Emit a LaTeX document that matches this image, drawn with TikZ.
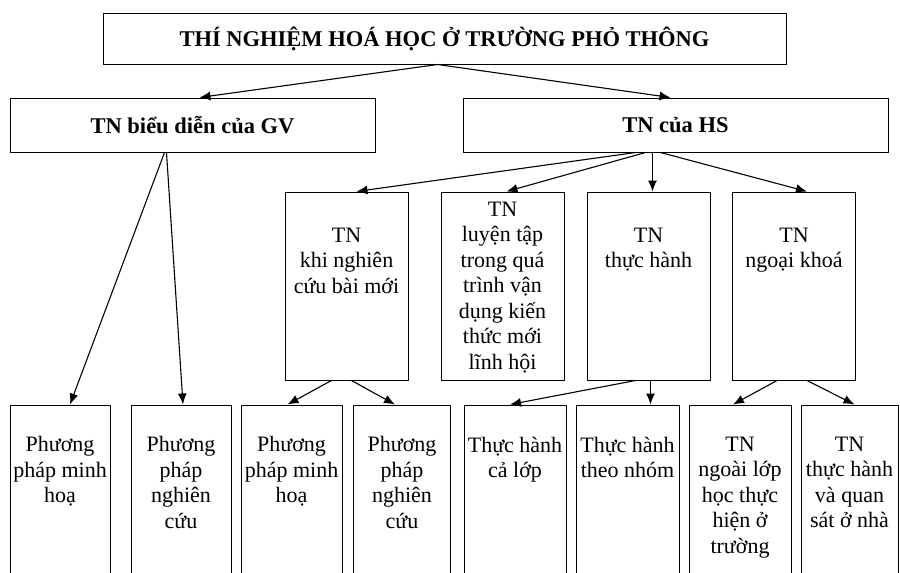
\documentclass[tikz,border=0pt]{standalone}
\usepackage{fontspec}
\setmainfont{Liberation Serif}
\usetikzlibrary{positioning, arrows.meta}

\begin{document}
\begin{tikzpicture}[
  x=1pt, y=-1pt,
  font=\fontsize{22}{25.5}\selectfont,
  box/.style={draw, line width=1pt, inner sep=0pt},
  head/.style={box, font=\fontsize{22.5}{26}\selectfont\bfseries},
  txt/.style={align=center, inner sep=0pt},
  link/.style={draw, line width=1.1pt, -{Latex[length=11pt, width=9pt]}}
]
\useasboundingbox (0,0) rectangle (900,573);

% top
\node[head, minimum width=683pt, minimum height=51pt] (root) at (444.5,38.5) {THÍ NGHIỆM HOÁ HỌC Ở TRƯỜNG PHỎ THÔNG};

% second level
\node[head, minimum width=365pt, minimum height=54pt] (gv) at (192.5,125) {TN biểu diễn của GV};
\node[head, minimum width=425pt, minimum height=54pt] (hs) at (675.5,125) {TN của HS};

% third level (HS)
\foreach \name/\cx in {kn/346.5, lt/502.5, th/648.5, nk/794}
  \node[box, minimum width=123pt, minimum height=188pt] (\name) at (\cx,286) {};
\node[txt, below=10pt of lt.north] (lt-t) {TN\\luyện tập\\trong quá\\trình vận\\dụng kiến\\thức mới\\lĩnh hội};
\node[txt, below=36pt of kn.north] (kn-t) {TN\\khi nghiên\\cứu bài mới};
\node[txt, below=36pt of th.north] (th-t) {TN\\thực hành};
\node[txt, below=36pt of nk.north] (nk-t) {TN\\ngoại khoá};

% bottom level (runs off the page)
\foreach \name/\cx/\w in {pm1/60/100, pn1/181/100, pm2/291.5/101, pn2/402/97,
                          cl/515/102, nh/627.5/103, nl/740/102, sn/849.5/97}
  \node[box, minimum width=\w pt, minimum height=195pt] (\name) at (\cx,502.5) {};
\node[txt, below=32pt of pm1.north] (pm1-t) {Phương\\pháp minh\\hoạ};
\node[txt, below=32pt of pn1.north] (pn1-t) {Phương\\pháp\\nghiên\\cứu};
\node[txt, below=32pt of pm2.north] (pm2-t) {Phương\\pháp minh\\hoạ};
\node[txt, below=32pt of pn2.north] (pn2-t) {Phương\\pháp\\nghiên\\cứu};
\node[txt, below=32pt of cl.north] (cl-t) {Thực hành\\cả lớp};
\node[txt, below=32pt of nh.north] (nh-t) {Thực hành\\theo nhóm};
\node[txt, below=32pt of nl.north] (nl-t) {TN\\ngoài lớp\\học thực\\hiện ở\\trường};
\node[txt, below=32pt of sn.north] (sn-t) {TN\\thực hành\\và quan\\sát ở nhà};

% arrows
\draw[link] ([xshift=-7pt]root.south) -- ([xshift=7pt]gv.north);
\draw[link] ([xshift=-7pt]root.south) -- ([xshift=-5pt]hs.north);

\draw[link] ([xshift=-28pt]gv.south) -- ([xshift=10pt]pm1.north);
\draw[link] ([xshift=-26pt]gv.south) -- ([xshift=2pt]pn1.north);

\draw[link] ([xshift=-40pt]hs.south) -- ([xshift=10pt]kn.north);
\draw[link] ([xshift=-30pt]hs.south) -- ([xshift=4pt]lt.north);
\draw[link] ([xshift=-23pt]hs.south) -- ([xshift=4pt]th.north);
\draw[link] ([xshift=-15pt]hs.south) -- ([xshift=13pt]nk.north);

\draw[link] ([xshift=-15pt]kn.south) -- ([xshift=-4pt]pm2.north);
\draw[link] ([xshift=5pt]kn.south) -- ([xshift=-7pt]pn2.north);
\draw[link] ([xshift=-13pt]th.south) -- ([xshift=-5pt]cl.north);
\draw[link] ([xshift=2pt]th.south) -- ([xshift=23pt]nh.north);
\draw[link] ([xshift=-17pt]nk.south) -- ([xshift=-7pt]nl.north);
\draw[link] ([xshift=13pt]nk.south) -- ([xshift=5pt]sn.north);
\end{tikzpicture}
\end{document}
